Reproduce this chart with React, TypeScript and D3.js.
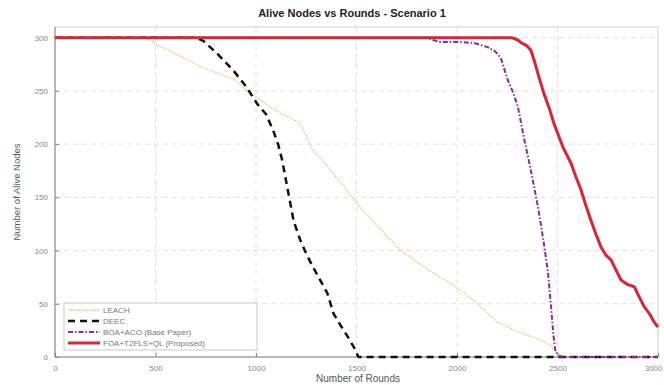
import { useEffect, useRef } from 'react';
import * as d3 from 'd3';

// Alive nodes per round
const leachRounds = [0, 450, 480, 520, 580, 630, 700, 760, 830, 890, 955, 1010, 1070, 1130, 1180, 1220, 1250, 1280, 1330, 1385, 1440, 1485, 1540, 1605, 1660, 1720, 1780, 1840, 1900, 1970, 2040, 2100, 2200, 2300, 2400, 2450, 2480, 2500, 2520, 3000];
const leachAlive = [300, 300, 297, 292, 287, 282, 275, 270, 265, 261, 250, 243, 235, 228, 224, 219, 208, 195, 185, 172, 160, 148, 136, 123, 112, 100, 92, 84, 77, 69, 60, 50, 33, 24, 17, 13, 8, 3, 0, 0];

const deecRounds = [0, 700, 738, 807, 888, 955, 1005, 1050, 1085, 1110, 1130, 1155, 1187, 1220, 1250, 1285, 1320, 1355, 1385, 1420, 1460, 1490, 1510, 3000];
const deecAlive = [300, 300, 297, 285, 269, 253, 238, 228, 213, 200, 185, 160, 128, 110, 97, 84, 72, 60, 41, 30, 18, 8, 0, 0];

const boaRounds = [0, 1850, 1910, 2000, 2085, 2153, 2190, 2218, 2253, 2280, 2303, 2333, 2368, 2403, 2428, 2453, 2468, 2480, 2490, 2510, 2530, 3000];
const boaAlive = [300, 300, 296, 296, 295, 291, 287, 281, 260, 248, 235, 206, 175, 141, 112, 79, 47, 20, 5, 1, 0, 0];

const foaRounds = [0, 2272, 2300, 2322, 2350, 2368, 2385, 2403, 2433, 2460, 2483, 2505, 2527, 2567, 2590, 2617, 2640, 2667, 2690, 2717, 2740, 2767, 2790, 2817, 2850, 2882, 2905, 2932, 2960, 2980, 3000];
const foaAlive = [300, 300, 298, 295, 292, 288, 278, 266, 247, 233, 219, 208, 197, 182, 170, 157, 143, 128, 116, 103, 96, 91, 82, 72, 68, 66, 57, 47, 40, 33, 28];

const xTicks = [0, 500, 1000, 1500, 2000, 2500, 3000];
const yTicks = [0, 50, 100, 150, 200, 250, 300];

const seriesNames = ['LEACH', 'DEEC', 'BOA+ACO (Base Paper)', 'FOA+T2FLS+QL (Proposed)'];

export default function App() {
    const svgRef = useRef<SVGSVGElement>(null);

    useEffect(() => {
        if (!svgRef.current) return;
        const svg = d3.select(svgRef.current);
        svg.selectAll('*').remove();

        const left = 55, right = 658, top = 27, bottom = 357;
        const x = d3.scaleLinear().domain([0, 3000]).range([left, right]);
        const y = d3.scaleLinear().domain([0, 310]).range([bottom, top]);
        const font = 'Liberation Sans, Arial, sans-serif';

        svg.append('rect').attr('width', 664).attr('height', 385).attr('fill', '#fff');

        // grid
        const grid = svg.append('g');
        grid.selectAll('.gx').data(xTicks.slice(1, -1)).enter().append('line')
            .attr('x1', d => x(d)).attr('x2', d => x(d))
            .attr('y1', top).attr('y2', bottom)
            .attr('stroke', '#dadada').attr('stroke-width', 0.8).attr('stroke-dasharray', '5,4');
        grid.selectAll('.gy').data(yTicks.slice(1)).enter().append('line')
            .attr('x1', left).attr('x2', right)
            .attr('y1', d => y(d)).attr('y2', d => y(d))
            .attr('stroke', '#dadada').attr('stroke-width', 0.8).attr('stroke-dasharray', '5,4');

        // box
        svg.append('rect')
            .attr('x', left).attr('y', top).attr('width', right - left).attr('height', bottom - top)
            .attr('fill', 'none').attr('stroke', '#c4c4c4').attr('stroke-width', 0.8);
        svg.append('line').attr('x1', left).attr('x2', left).attr('y1', top).attr('y2', bottom)
            .attr('stroke', '#888').attr('stroke-width', 1);
        svg.append('line').attr('x1', left).attr('x2', right).attr('y1', bottom).attr('y2', bottom)
            .attr('stroke', '#888').attr('stroke-width', 1);

        // axes
        const fmt = d3.format('d');
        const xAxis = svg.append('g').attr('transform', `translate(0,${bottom})`)
            .call(d3.axisBottom(x).tickValues(xTicks).tickFormat(d => fmt(d as number))
                .tickSizeInner(-4).tickSizeOuter(0).tickPadding(8));
        const yAxis = svg.append('g').attr('transform', `translate(${left},0)`)
            .call(d3.axisLeft(y).tickValues(yTicks).tickFormat(d => fmt(d as number))
                .tickSizeInner(-4).tickSizeOuter(0).tickPadding(7));
        [xAxis, yAxis].forEach(a => {
            a.select('.domain').remove();
            a.selectAll('.tick line').attr('stroke', '#888');
            a.selectAll('.tick text').attr('fill', '#888').attr('font-size', 8).attr('font-family', font);
        });
        // keep the last x label inside the picture
        xAxis.selectAll<SVGTextElement, number>('.tick text')
            .filter(d => d === 3000)
            .attr('text-anchor', 'end').attr('dx', 4);

        // series
        const line = d3.line<[number, number]>().x(d => x(d[0])).y(d => y(d[1]));
        const zip = (xs: number[], ys: number[]) => xs.map((v, i) => [v, ys[i]] as [number, number]);
        const series = [
            { data: zip(leachRounds, leachAlive), color: '#f2bf88', width: 1.3, dash: '1.5,1.2' },
            { data: zip(deecRounds, deecAlive), color: '#111', width: 2.5, dash: '7,5' },
            { data: zip(boaRounds, boaAlive), color: '#8b2a9c', width: 2, dash: '5,2,1.5,2' },
            { data: zip(foaRounds, foaAlive), color: '#dc2436', width: 3, dash: null as string | null },
        ];
        series.forEach(s => {
            svg.append('path').datum(s.data)
                .attr('d', line)
                .attr('fill', 'none')
                .attr('stroke', s.color)
                .attr('stroke-width', s.width)
                .attr('stroke-dasharray', s.dash)
                .attr('stroke-linejoin', 'round');
        });

        // title and labels
        svg.append('text').attr('x', 352).attr('y', 17).attr('text-anchor', 'middle')
            .attr('font-family', font).attr('font-size', 11).attr('font-weight', 'bold').attr('fill', '#222')
            .text('Alive Nodes vs Rounds - Scenario 1');
        svg.append('text').attr('x', 358).attr('y', 382).attr('text-anchor', 'middle')
            .attr('font-family', font).attr('font-size', 10).attr('fill', '#555')
            .text('Number of Rounds');
        svg.append('text').attr('transform', 'translate(20,192) rotate(-90)').attr('text-anchor', 'middle')
            .attr('font-family', font).attr('font-size', 9.5).attr('fill', '#555')
            .text('Number of Alive Nodes');

        // legend
        const lg = svg.append('g');
        lg.append('rect').attr('x', 64).attr('y', 303).attr('width', 193).attr('height', 47)
            .attr('fill', '#fff').attr('stroke', '#bbb').attr('stroke-width', 0.8);
        series.forEach((s, i) => {
            const ly = 310 + i * 11;
            lg.append('line').attr('x1', 68).attr('x2', 100).attr('y1', ly).attr('y2', ly)
                .attr('stroke', s.color).attr('stroke-width', s.width)
                .attr('stroke-dasharray', s.dash);
            lg.append('text').attr('x', 103).attr('y', ly + 3)
                .attr('font-family', font).attr('font-size', 8).attr('fill', '#777')
                .text(seriesNames[i]);
        });
    }, []);

    return (
        <svg ref={svgRef} width={664} height={385}
            style={{ position: 'absolute', left: 0, top: 0 }} />
    );
}
